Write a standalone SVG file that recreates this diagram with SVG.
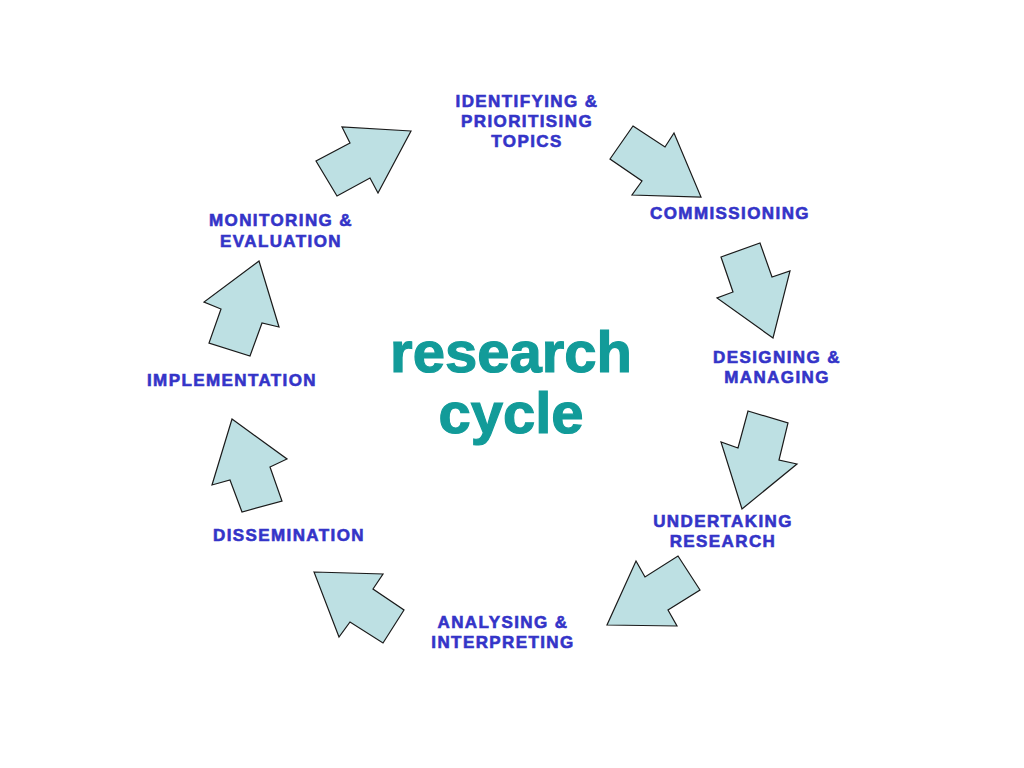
<svg xmlns="http://www.w3.org/2000/svg" width="1024" height="768" viewBox="0 0 1024 768">
<style>
.arrow{fill:#bde0e3;stroke:#1a1a1a;stroke-width:1.2;stroke-linejoin:miter}
.lbl{font-family:"Liberation Sans",Arial,sans-serif;font-weight:bold;font-size:17px;fill:#3434c8;stroke:#3434c8;stroke-width:0.6;text-anchor:middle;letter-spacing:1.4px}
.title{font-family:"Liberation Sans",Arial,sans-serif;font-weight:bold;font-size:58px;fill:#129b99;stroke:#129b99;stroke-width:1.2;text-anchor:middle}
</style>
<rect width="1024" height="768" fill="#ffffff"/>
<g id="connectors">
<polygon class="arrow" points="411,131 342,127 350,143 316,161 337,196 370,178 378,193"/>
<polygon class="arrow" points="633,126 665,147 674,133 701,197 632,195 642,181 610,159"/>
<polygon class="arrow" points="721,257 760,243 772,277 790,271 773,338 717,298 733,292"/>
<polygon class="arrow" points="748,411 788,423 779,460 797,464 742,509 721,442 738,448"/>
<polygon class="arrow" points="636,561 645,577 678,556 700,590 668,610 677,626 607,625"/>
<polygon class="arrow" points="314,572 383,574 373,589 404,610 383,643 350,622 339,637"/>
<polygon class="arrow" points="232,419 287,459 270,467 282,501 242,512 230,480 212,485"/>
<polygon class="arrow" points="259,261 279,327 262,323 250,356 209,343 221,309 204,302"/>
</g>
<g id="title">
<text class="title" x="511" y="372">research</text>
<text class="title" x="511" y="433">cycle</text>
</g>
<g id="node-identifying">
<text class="lbl" x="527" y="107">IDENTIFYING &amp;</text>
<text class="lbl" x="527" y="127">PRIORITISING</text>
<text class="lbl" x="527" y="147">TOPICS</text>
</g>
<g id="node-commissioning">
<text class="lbl" x="730" y="219">COMMISSIONING</text>
</g>
<g id="node-designing">
<text class="lbl" x="777" y="363">DESIGNING &amp;</text>
<text class="lbl" x="777" y="383">MANAGING</text>
</g>
<g id="node-undertaking">
<text class="lbl" x="723" y="527">UNDERTAKING</text>
<text class="lbl" x="723" y="547">RESEARCH</text>
</g>
<g id="node-analysing">
<text class="lbl" x="503" y="628">ANALYSING &amp;</text>
<text class="lbl" x="503" y="648">INTERPRETING</text>
</g>
<g id="node-dissemination">
<text class="lbl" x="289" y="541">DISSEMINATION</text>
</g>
<g id="node-implementation">
<text class="lbl" x="232" y="386">IMPLEMENTATION</text>
</g>
<g id="node-monitoring">
<text class="lbl" x="281" y="226">MONITORING &amp;</text>
<text class="lbl" x="281" y="247">EVALUATION</text>
</g>
</svg>
